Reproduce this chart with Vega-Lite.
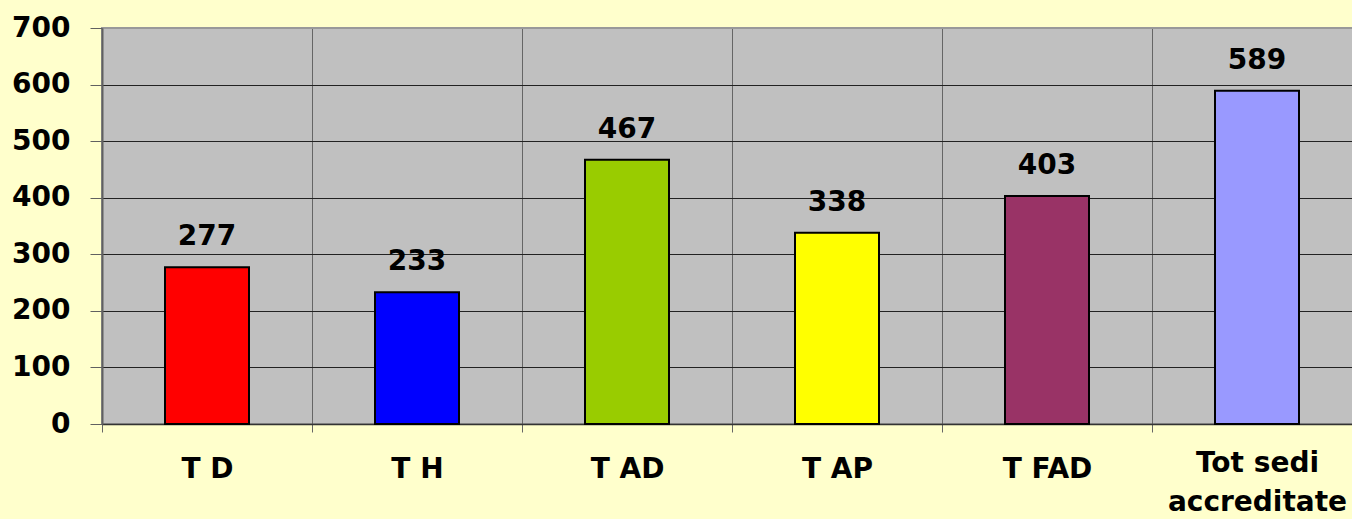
{
  "$schema": "https://vega.github.io/schema/vega-lite/v6.json",
  "width": 1260,
  "height": 396,
  "autosize": {"type": "none"},
  "padding": {"left": 102, "top": 28, "right": 0, "bottom": 95},
  "background": "#FFFFCC",
  "config": {
    "view": {"fill": "#C0C0C0", "stroke": "#999999", "strokeWidth": 2},
    "font": "DejaVu Sans"
  },
  "data": {
    "values": [
      {"cat": "T D", "value": 277},
      {"cat": "T H", "value": 233},
      {"cat": "T AD", "value": 467},
      {"cat": "T AP", "value": 338},
      {"cat": "T FAD", "value": 403},
      {"cat": "Tot sedi accreditate", "value": 589}
    ]
  },
  "encoding": {
    "x": {
      "field": "cat",
      "type": "nominal",
      "sort": null,
      "scale": {"paddingInner": 0, "paddingOuter": 0},
      "axis": {
        "title": null,
        "labelAngle": 0,
        "tickBand": "extent",
        "grid": true,
        "gridColor": "#666666",
        "gridWidth": 1,
        "tickSize": 8,
        "tickColor": "#666666",
        "domainColor": "#333333",
        "domainWidth": 1.5,
        "labelFont": "DejaVu Sans",
        "labelFontSize": 28,
        "labelFontWeight": "bold",
        "labelColor": "#000000",
        "labelPadding": {"condition": {"test": "datum.value === 'Tot sedi accreditate'", "value": 17}, "value": 23},
        "labelLineHeight": 39,
        "labelExpr": "datum.label == 'Tot sedi accreditate' ? ['Tot sedi', 'accreditate'] : datum.label"
      }
    },
    "y": {
      "field": "value",
      "type": "quantitative",
      "scale": {"domain": [0, 700], "nice": false},
      "axis": {
        "title": null,
        "values": [0, 100, 200, 300, 400, 500, 600, 700],
        "grid": true,
        "gridColor": {"condition": {"test": "datum.value === 700", "value": "#999999"}, "value": "#222222"},
        "gridWidth": 1,
        "tickSize": 12,
        "tickColor": "#606060",
        "domainColor": "#606060",
        "domainWidth": 2,
        "labelFont": "DejaVu Sans",
        "labelFontSize": 28,
        "labelFontWeight": "bold",
        "labelColor": "#000000",
        "labelPadding": 20
      }
    }
  },
  "layer": [
    {
      "mark": {"type": "bar", "width": 84, "stroke": "#000000", "strokeWidth": 2},
      "encoding": {
        "color": {
          "field": "cat",
          "type": "nominal",
          "legend": null,
          "scale": {
            "domain": ["T D", "T H", "T AD", "T AP", "T FAD", "Tot sedi accreditate"],
            "range": ["#FF0000", "#0000FF", "#99CC00", "#FFFF00", "#993366", "#9999FF"]
          }
        }
      }
    },
    {
      "mark": {"type": "text", "baseline": "alphabetic", "dy": -22, "fontSize": 28, "fontWeight": "bold", "font": "DejaVu Sans", "color": "#000000"},
      "encoding": {"text": {"field": "value", "type": "quantitative"}}
    }
  ]
}
